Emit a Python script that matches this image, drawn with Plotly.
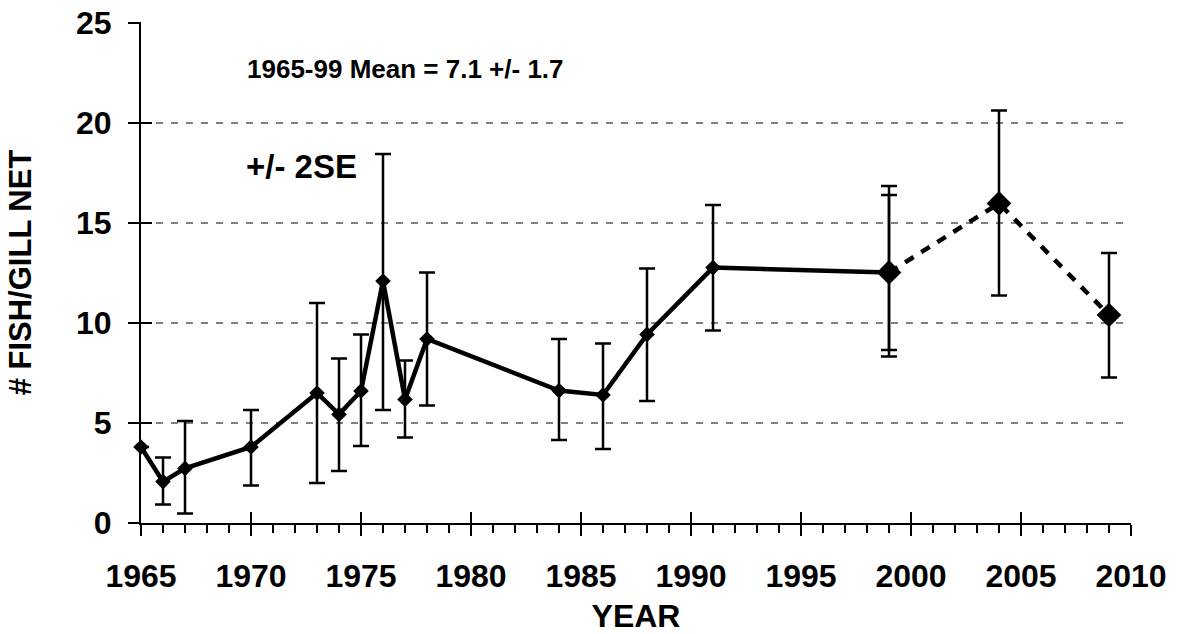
import plotly.graph_objects as go

# Gill-net catch survey, 1965-1999 (solid) and recent surveys (dashed)
years_hist = [1965, 1966, 1967, 1970, 1973, 1974, 1975, 1976, 1977, 1978, 1984, 1986, 1988, 1991, 1999]
catch_hist = [3.8, 2.07, 2.73, 3.8, 6.5, 5.43, 6.6, 12.1, 6.18, 9.2, 6.62, 6.4, 9.43, 12.77, 12.53]
upper_hist = [3.8, 3.28, 5.1, 5.65, 11.0, 8.23, 9.43, 18.45, 8.12, 12.53, 9.2, 8.98, 12.73, 15.9, 16.4]
lower_hist = [3.8, 0.93, 0.48, 1.87, 2.0, 2.6, 3.85, 5.65, 4.27, 5.87, 4.15, 3.7, 6.1, 9.62, 8.65]

years_recent = [1999, 2004, 2009]
catch_recent = [12.53, 15.98, 10.4]
upper_recent = [16.85, 20.62, 13.5]
lower_recent = [8.32, 11.37, 7.27]

x_ticks = [1965, 1970, 1975, 1980, 1985, 1990, 1995, 2000, 2005, 2010]
y_ticks = [0, 5, 10, 15, 20, 25]

FONT = "Liberation Sans, Arial, sans-serif"
X_RANGE = [1965, 2010]
Y_RANGE = [0, 25.05]  # a hair above 25 so the top gridline is drawn


def err(vals, hi, lo):
    plus = [h - v for v, h in zip(vals, hi)]
    minus = [v - l for v, l in zip(vals, lo)]
    return plus, minus


p_h, m_h = err(catch_hist, upper_hist, lower_hist)
p_r, m_r = err(catch_recent, upper_recent, lower_recent)

fig = go.Figure()

fig.add_trace(go.Scatter(
    x=years_hist, y=catch_hist, mode="lines+markers",
    line=dict(color="black", width=4.5),
    marker=dict(symbol="diamond", size=12, color="black"),
    error_y=dict(type="data", symmetric=False, array=p_h, arrayminus=m_h,
                 color="black", thickness=2.5, width=8),
    cliponaxis=False, showlegend=False,
))

# recent surveys sit on the overlay axes, which also carry the inner tick halves
fig.add_trace(go.Scatter(
    x=years_recent, y=catch_recent, mode="lines+markers",
    xaxis="x2", yaxis="y2",
    line=dict(color="black", width=4.5, dash="10px,9px"),
    marker=dict(symbol="diamond", size=19, color="black"),
    error_y=dict(type="data", symmetric=False, array=p_r, arrayminus=m_r,
                 color="black", thickness=2.5, width=8),
    cliponaxis=False, showlegend=False,
))

tick_font = dict(family=FONT, size=32, color="black", weight="bold")

fig.update_layout(
    width=1178, height=634,
    margin=dict(l=141, r=47, t=22, b=111),
    plot_bgcolor="white", paper_bgcolor="white",
    font=dict(family=FONT, color="black"),
    xaxis=dict(
        range=X_RANGE, tickvals=x_ticks, ticktext=[str(v) for v in x_ticks],
        ticks="outside", ticklen=11, tickwidth=2, tickcolor="black",
        showline=True, linecolor="black", linewidth=2,
        showgrid=False, zeroline=False, automargin=False,
        minor=dict(dtick=1, ticks="outside", ticklen=8, tickwidth=2,
                   tickcolor="black", showgrid=False),
        tickfont=tick_font, ticklabelstandoff=13,
        title=dict(text="YEAR", standoff=36,
                   font=dict(family=FONT, size=32, color="black", weight="bold")),
    ),
    yaxis=dict(
        range=Y_RANGE, tickvals=y_ticks,
        ticks="outside", ticklen=11, tickwidth=2, tickcolor="black",
        showline=True, linecolor="black", linewidth=2,
        showgrid=True, gridcolor="#808080", gridwidth=1.5, griddash="7px,8px",
        zeroline=False, automargin=False,
        tickfont=tick_font, ticklabelstandoff=10,
        title=dict(text="# FISH/GILL NET", standoff=35,
                   font=dict(family=FONT, size=31, color="black", weight="bold")),
    ),
    xaxis2=dict(
        overlaying="x", anchor="y", side="bottom", range=X_RANGE,
        tickvals=x_ticks, ticks="inside", ticklen=11, tickwidth=2, tickcolor="black",
        showticklabels=False, showgrid=False, showline=False, zeroline=False,
        automargin=False,
    ),
    yaxis2=dict(
        overlaying="y", anchor="x", side="left", range=Y_RANGE,
        tickvals=y_ticks, ticks="inside", ticklen=11, tickwidth=2, tickcolor="black",
        showticklabels=False, showgrid=False, showline=False, zeroline=False,
        automargin=False,
    ),
    annotations=[
        dict(x=1977.0, y=22.7, xref="x", yref="y", text="1965-99 Mean = 7.1 +/- 1.7",
             showarrow=False, xanchor="center", yanchor="middle",
             font=dict(family=FONT, size=26, color="black", weight="bold")),
        dict(x=1972.3, y=17.85, xref="x", yref="y", text="+/- 2SE",
             showarrow=False, xanchor="center", yanchor="middle",
             font=dict(family=FONT, size=33, color="black", weight="bold")),
    ],
)

fig.write_html("out.html")
